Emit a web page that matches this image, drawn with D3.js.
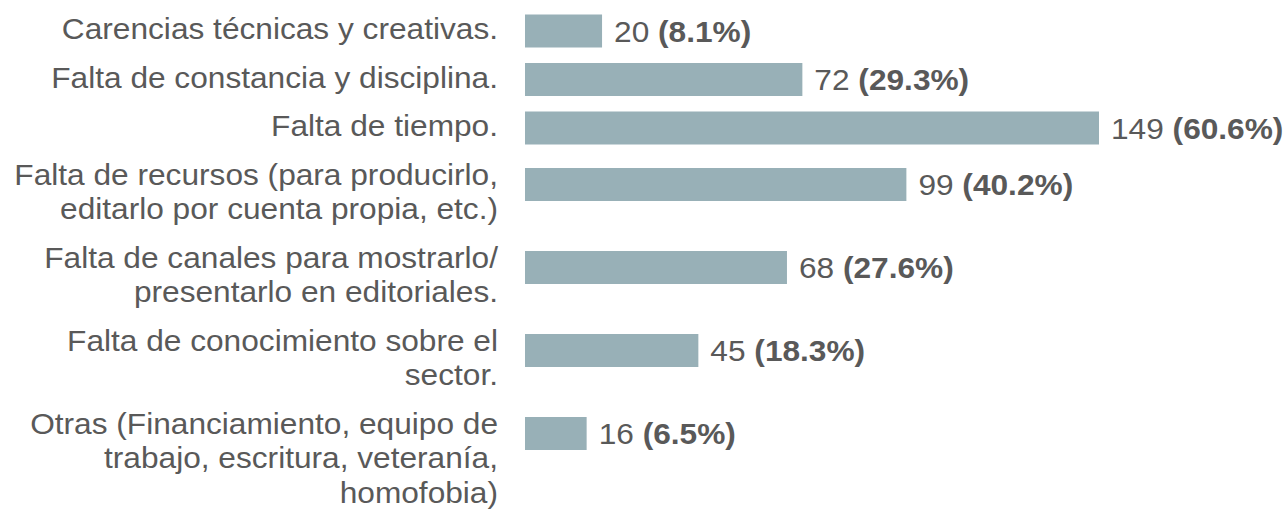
<!DOCTYPE html>
<html lang="es">
<head>
<meta charset="UTF-8">
<title>Dificultades</title>
<script src="https://cdn.jsdelivr.net/npm/d3@7"></script>
<style>
  body { margin: 0; background: #fff; }
  text { font-family: "Liberation Sans", Arial, sans-serif; fill: #595959; }
</style>
</head>
<body>
<script>
// categories, each split in lines as in the picture
var categories = [
  ["Carencias técnicas y creativas."],
  ["Falta de constancia y disciplina."],
  ["Falta de tiempo."],
  ["Falta de recursos (para producirlo,", "editarlo por cuenta propia, etc.)"],
  ["Falta de canales para mostrarlo/", "presentarlo en editoriales."],
  ["Falta de conocimiento sobre el", "sector."],
  ["Otras (Financiamiento, equipo de", "trabajo, escritura, veteranía,", "homofobia)"]
];
var counts = [20, 72, 149, 99, 68, 45, 16];
var percents = ["8.1%", "29.3%", "60.6%", "40.2%", "27.6%", "18.3%", "6.5%"];

var width = 1284, height = 514;
var fontSize = 30, stretch = 1.055;   // the original type is a bit wider than Arial
var lineH = 34.5, rowGap = 14, barH = 33;
var labelRight = 498, barLeft = 525;

var svg = d3.select("body").append("svg")
    .attr("width", width)
    .attr("height", height);

var x = d3.scaleLinear()
    .domain([0, d3.max(counts)])
    .range([0, 574]);

// stack rows by how many lines their label has
var rows = [];
var y0 = 39.5;
categories.forEach(function (lines, i) {
  var barTop = y0 - 25 + (lines.length > 1 ? 8 : 0);
  rows.push({ lines: lines, count: counts[i], pct: percents[i], baseline: y0, barTop: barTop });
  y0 += lines.length * lineH + rowGap;
});

var g = svg.selectAll("g.row")
    .data(rows)
    .enter().append("g")
    .attr("class", "row");

g.append("text")
    .attr("text-anchor", "end")
    .attr("transform", "translate(" + labelRight + ",0) scale(" + stretch + ",1)")
    .style("font-size", fontSize + "px")
    .selectAll("tspan")
    .data(function (d) { return d.lines.map(function (l, k) { return { t: l, y: d.baseline + k * lineH }; }); })
    .enter().append("tspan")
    .attr("x", 0)
    .attr("y", function (d) { return d.y; })
    .text(function (d) { return d.t; });

g.append("rect")
    .attr("x", barLeft)
    .attr("y", function (d) { return d.barTop; })
    .attr("width", function (d) { return x(d.count); })
    .attr("height", barH)
    .attr("fill", "#98b0b7");

var v = g.append("text")
    .attr("transform", function (d) {
      return "translate(" + (barLeft + x(d.count) + 12) + "," + (d.barTop + barH / 2 + 10.5) + ") scale(" + stretch + ",1)";
    })
    .style("font-size", fontSize + "px");
v.append("tspan").text(function (d) { return d.count + " "; });
v.append("tspan")
    .style("font-weight", "bold")
    .text(function (d) { return "(" + d.pct + ")"; });
</script>
</body>
</html>
